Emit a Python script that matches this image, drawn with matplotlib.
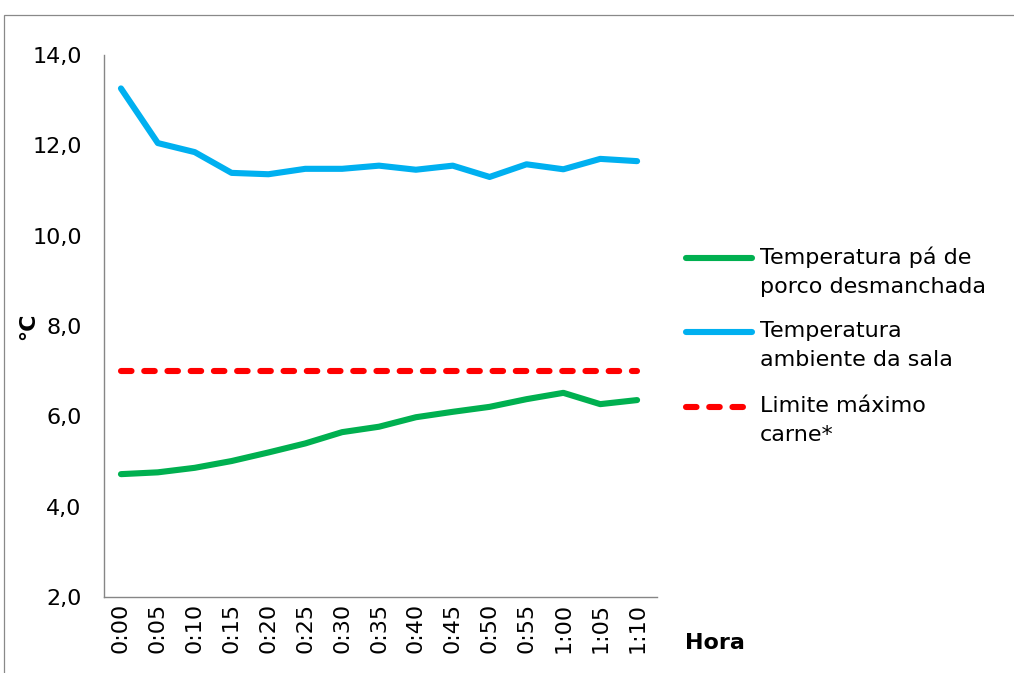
import matplotlib
matplotlib.use('Agg')
import matplotlib.pyplot as plt
from matplotlib.lines import Line2D
from matplotlib.patches import Rectangle
from matplotlib.ticker import FuncFormatter

plt.rcParams['font.family'] = ['DejaVu Sans']

# Leituras de 5 em 5 minutos
horas = ['0:00', '0:05', '0:10', '0:15', '0:20', '0:25', '0:30', '0:35',
         '0:40', '0:45', '0:50', '0:55', '1:00', '1:05', '1:10']
temp_pa = [4.72, 4.76, 4.86, 5.01, 5.20, 5.40, 5.65, 5.77,
           5.98, 6.10, 6.21, 6.38, 6.52, 6.27, 6.36]
temp_sala = [13.26, 12.05, 11.85, 11.39, 11.36, 11.48, 11.48, 11.55,
             11.46, 11.55, 11.30, 11.58, 11.47, 11.70, 11.65]
limite = [7.0] * len(horas)

nomes = ['Temperatura pá de\nporco desmanchada',
         'Temperatura\nambiente da sala',
         'Limite máximo\ncarne*']
cores = ['#00B050', '#00B0F0', '#FF0000']

W, H = 1014, 673
fig = plt.figure(figsize=(W / 100, H / 100), dpi=100)
ax = fig.add_axes([104 / W, (H - 597) / H, (657 - 104) / W, (597 - 55) / H])

x = range(len(horas))
lw = 4.4
tracos = (1.72, 2.08)
ax.plot(x, temp_pa, color=cores[0], lw=lw, solid_capstyle='round',
        solid_joinstyle='round')
ax.plot(x, temp_sala, color=cores[1], lw=lw, solid_capstyle='round',
        solid_joinstyle='round')
ax.plot(x, limite, color=cores[2], lw=lw, dashes=tracos,
        dash_capstyle='round')

ax.set_xlim(-0.46, 14.54)
ax.set_ylim(2, 14)
ax.set_yticks(range(2, 15, 2))
ax.yaxis.set_major_formatter(FuncFormatter(lambda v, p: ('%.1f' % v).replace('.', ',')))
ax.set_xticks(list(x))
ax.set_xticklabels(horas, rotation=90)
ax.tick_params(axis='both', length=0, labelsize=16)
ax.tick_params(axis='y', pad=16)
ax.tick_params(axis='x', pad=4)
for s in ['top', 'right']:
    ax.spines[s].set_visible(False)
for s in ['left', 'bottom']:
    ax.spines[s].set_color('#868686')
    ax.spines[s].set_linewidth(1)

# Títulos dos eixos
fig.text(28 / W, 1 - 326 / H, '°C', rotation=90, fontsize=16,
         fontweight='bold', ha='center', va='center')
fig.text(685 / W, 1 - 643 / H, 'Hora', fontsize=16, fontweight='bold',
         ha='left', va='center')

# Legenda desenhada à mão (traço alinhado com a primeira linha do texto)
ys = [258, 332, 407]
estilos = [{}, {}, {'dashes': tracos, 'dash_capstyle': 'round'}]
for y, nome, cor, est in zip(ys, nomes, cores, estilos):
    yf = 1 - y / H
    fig.add_artist(Line2D([686 / W, 752 / W], [yf, yf], color=cor, lw=lw,
                          solid_capstyle='round', **est))
    fig.text(760 / W, 1 - (y - 11) / H, nome, fontsize=16, ha='left',
             va='top', linespacing=1.55)

# Moldura da área do gráfico
fig.add_artist(Rectangle((4 / W, -0.01), 1.0, 1.01 - 15 / H,
                         transform=fig.transFigure, fill=False,
                         edgecolor='#898989', lw=0.9))

fig.savefig('out.png', dpi=100)
